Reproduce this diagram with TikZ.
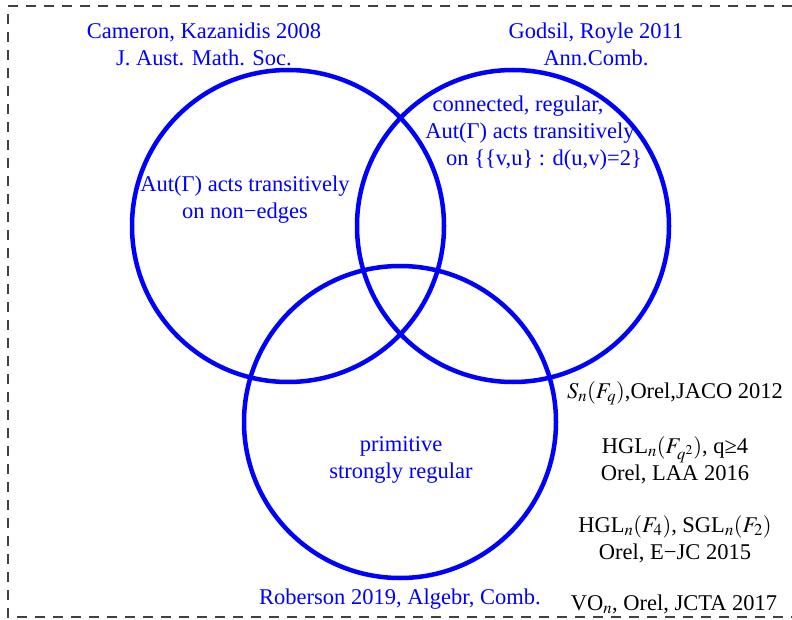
\documentclass[tikz,border=0pt]{standalone}
\usepackage{mathptmx}
\usepackage{fontspec}
\setmainfont{Liberation Serif}
\begin{document}
\begin{tikzpicture}[x=1pt, y=-1pt,
	vset/.style={draw=blue, line width=4.5pt, circle, minimum size=312pt, inner sep=0},
	bluetxt/.style={text=blue, font=\fontsize{22.5}{27}\selectfont, align=center, inner sep=0},
	blacktxt/.style={text=black, font=\fontsize{22.5}{27}\selectfont, align=center, inner sep=0}]
			\useasboundingbox (0,0) rectangle (792,620);
			\coordinate (boxne) at (810,6);
			\coordinate (boxsw) at (8,617);
			\draw[black!75, line width=1.3pt, dash pattern=on 10pt off 8pt] (boxne) -| (boxsw) -- (boxsw -| boxne);
			\node (cameron) [vset] at (288,226) {};
			\node (godsil) [vset] at (513,226) {};
			\node (roberson) [vset] at (400,422) {};
			\node (cref) [bluetxt] at (204,44) {Cameron, Kazanidis 2008\\J. Aust. Math. Soc.};
			\node (gref) [bluetxt] at (596,44) {Godsil, Royle 2011\\Ann.Comb.};
			\node (rref) [bluetxt] at (400,599) {Roberson 2019, Algebr, Comb.};
			\node (cprop) [bluetxt] at (245,200) {Aut(Γ) acts transitively\\on non−edges};
			\node (gprop1) [bluetxt] at (518,106) {connected, regular,};
			\node (gprop2) [bluetxt] at (530,133) {Aut(Γ) acts transitively};
			\node (gprop3) [bluetxt] at (544,160) {on \{\{v,u\} : d(u,v)=2\}};
			\node (rprop) [bluetxt] at (401,460) {primitive\\strongly regular};
			\node (ex1) [blacktxt] at (675,393) {$S_n(F_q)$,Orel,JACO 2012};
			\node (ex2) [blacktxt] at (675,460) {HGL$_n(F_{q^2})$, q≥4\\Orel, LAA 2016};
			\node (ex3) [blacktxt] at (675,539) {HGL$_n(F_4)$, SGL$_n(F_2)$\\Orel, E−JC 2015};
			\node (ex4) [blacktxt] at (674,604) {VO$_n$, Orel, JCTA 2017};
		\end{tikzpicture}
\end{document}
